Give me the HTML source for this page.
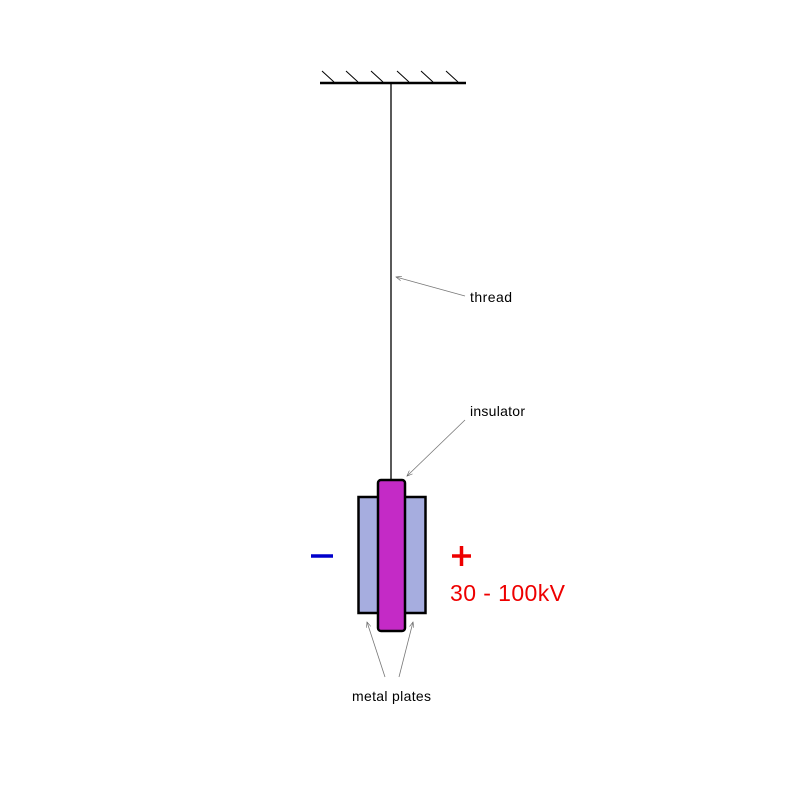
<!DOCTYPE html>
<html><head><style>body{margin:0;background:#fff}</style></head><body>
<svg width="800" height="800" xmlns="http://www.w3.org/2000/svg" font-family="Liberation Sans, sans-serif">
<defs><marker id="a" markerWidth="8" markerHeight="6" refX="7" refY="3" orient="auto"><path d="M0,0 L7,3 L0,6" fill="none" stroke="#666" stroke-width="0.8"/></marker></defs>
<line x1="320" y1="83" x2="466" y2="83" stroke="#000" stroke-width="2.5"/>
<g stroke="#000" stroke-width="1">
<line x1="322" y1="71" x2="334" y2="82"/><line x1="346" y1="71" x2="358" y2="82"/><line x1="371" y1="71" x2="383" y2="82"/><line x1="397" y1="71" x2="409" y2="82"/><line x1="421" y1="71" x2="433" y2="82"/><line x1="446" y1="71" x2="458" y2="82"/>
</g>
<line x1="391" y1="83" x2="391" y2="481" stroke="#000" stroke-width="1.3"/>
<rect x="358.5" y="497" width="67" height="116" fill="#a6addf" stroke="#000" stroke-width="2.5"/>
<rect x="378" y="480" width="27" height="151" rx="3" fill="#c42ac6" stroke="#000" stroke-width="2.5"/>
<g stroke="#777" stroke-width="0.8" fill="none" marker-end="url(#a)">
<line x1="465" y1="296" x2="396" y2="277"/>
<line x1="465" y1="420" x2="407" y2="476"/>
<line x1="385" y1="677" x2="367" y2="622"/>
<line x1="399" y1="677" x2="413" y2="622"/>
</g>
<text x="470" y="302" font-size="14" textLength="42">thread</text>
<text x="470" y="416" font-size="14" textLength="55">insulator</text>
<text x="352" y="701" font-size="14" textLength="79">metal plates</text>
<line x1="311" y1="556" x2="333" y2="556" stroke="#0000cc" stroke-width="3.5"/>
<g stroke="#e00" stroke-width="3.5"><line x1="452" y1="556" x2="471" y2="556"/><line x1="461.5" y1="546" x2="461.5" y2="566"/></g>
<text x="450" y="601" font-size="23" fill="#e00" textLength="115">30 - 100kV</text>
</svg>
</body></html>
